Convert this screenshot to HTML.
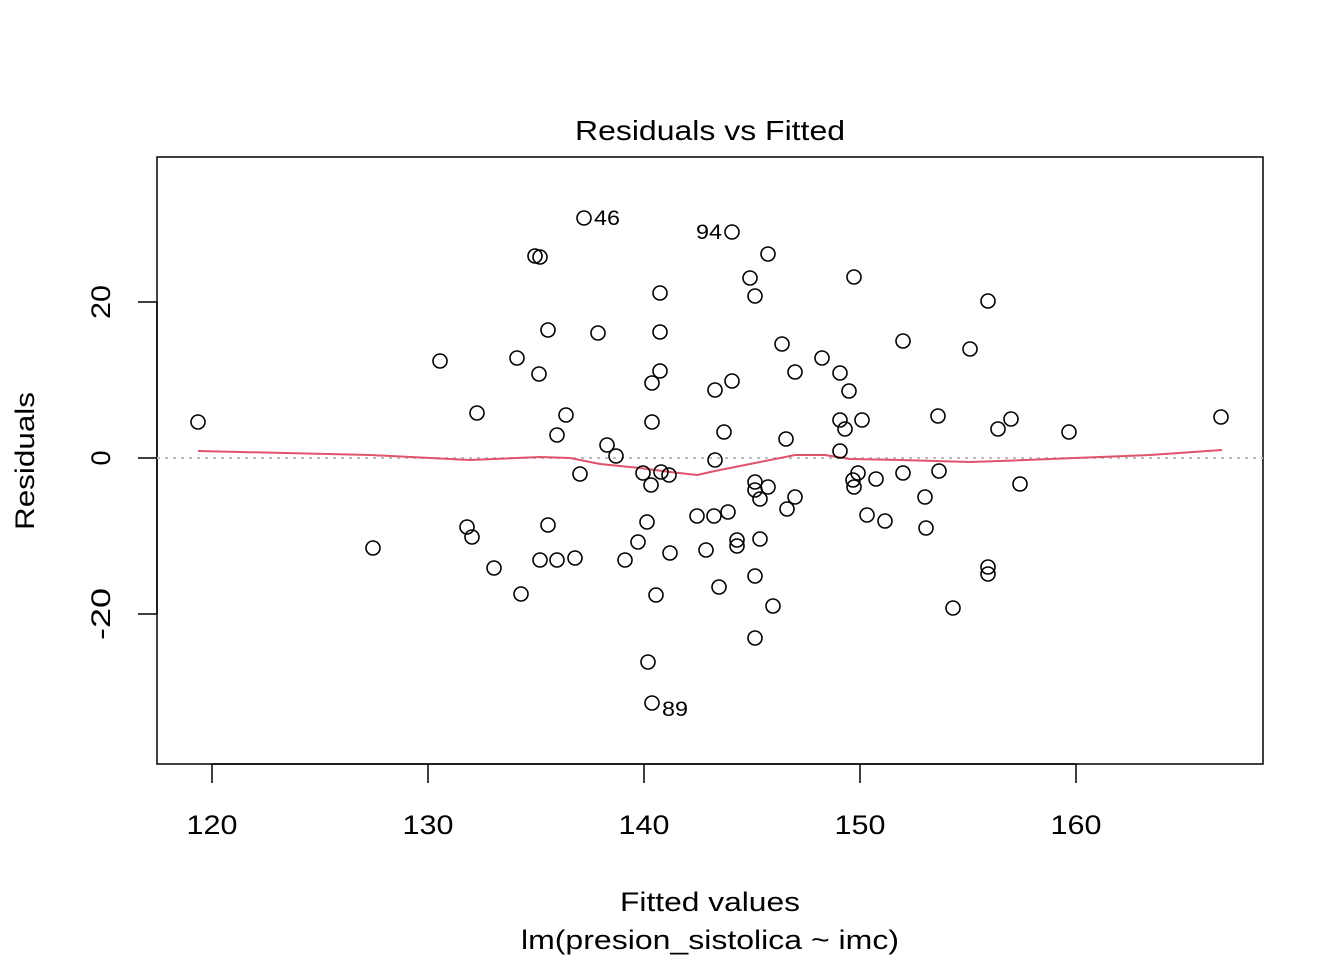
<!DOCTYPE html>
<html><head><meta charset="utf-8"><style>html,body{margin:0;padding:0;background:#fff}</style></head>
<body>
<svg width="1344" height="960" xmlns="http://www.w3.org/2000/svg" font-family="Liberation Sans, Arial, sans-serif">
<rect width="1344" height="960" fill="#fff"/>
<text x="710" y="140" font-size="28" text-anchor="middle" textLength="270" lengthAdjust="spacingAndGlyphs">Residuals vs Fitted</text>
<rect x="157" y="157" width="1106" height="607" fill="none" stroke="#000" stroke-width="1.5"/>
<g stroke="#000" stroke-width="1.5">
<line x1="212" y1="764" x2="1076" y2="764"/>
<line x1="212" y1="764" x2="212" y2="783"/><line x1="428" y1="764" x2="428" y2="783"/><line x1="644" y1="764" x2="644" y2="783"/><line x1="860" y1="764" x2="860" y2="783"/><line x1="1076" y1="764" x2="1076" y2="783"/>
<line x1="157" y1="302" x2="157" y2="614"/>
<line x1="157" y1="302" x2="138" y2="302"/><line x1="157" y1="458" x2="138" y2="458"/><line x1="157" y1="614" x2="138" y2="614"/>
</g>
<g font-size="27" text-anchor="middle" lengthAdjust="spacingAndGlyphs">
<text x="212" y="834" textLength="51" lengthAdjust="spacingAndGlyphs">120</text><text x="428" y="834" textLength="51" lengthAdjust="spacingAndGlyphs">130</text><text x="644" y="834" textLength="51" lengthAdjust="spacingAndGlyphs">140</text><text x="860" y="834" textLength="51" lengthAdjust="spacingAndGlyphs">150</text><text x="1076" y="834" textLength="51" lengthAdjust="spacingAndGlyphs">160</text>
<text transform="translate(110,302) rotate(-90)" textLength="34" lengthAdjust="spacingAndGlyphs">20</text>
<text transform="translate(110,458) rotate(-90)">0</text>
<text transform="translate(110,614) rotate(-90)" textLength="52" lengthAdjust="spacingAndGlyphs">-20</text>
<text x="710" y="911" textLength="180" lengthAdjust="spacingAndGlyphs">Fitted values</text>
<text x="710" y="949" textLength="378" lengthAdjust="spacingAndGlyphs">lm(presion_sistolica ~ imc)</text>
<text transform="translate(34,461) rotate(-90)" textLength="138" lengthAdjust="spacingAndGlyphs">Residuals</text>
</g>
<line x1="157" y1="458" x2="1263" y2="458" stroke="#bebebe" stroke-width="2" stroke-dasharray="3,5"/>
<polyline fill="none" stroke="#DF536B" stroke-width="2" points="198,451 370,455 470,460 540,457 570,458 600,464 640,468 670,472 697,475 715,471 760,462 795,455 825,455 850,459 900,460 970,462 1000,461 1075,458 1150,455 1222,450"/>
<g fill="none" stroke="#000" stroke-width="1.6">
<circle cx="198" cy="422" r="7"/><circle cx="373" cy="548" r="7"/><circle cx="440" cy="361" r="7"/><circle cx="467" cy="527" r="7"/><circle cx="472" cy="537" r="7"/><circle cx="477" cy="413" r="7"/><circle cx="494" cy="568" r="7"/><circle cx="517" cy="358" r="7"/><circle cx="521" cy="594" r="7"/><circle cx="535" cy="256" r="7"/><circle cx="540" cy="257" r="7"/><circle cx="539" cy="374" r="7"/><circle cx="548" cy="330" r="7"/><circle cx="548" cy="525" r="7"/><circle cx="540" cy="560" r="7"/><circle cx="557" cy="560" r="7"/><circle cx="557" cy="435" r="7"/><circle cx="566" cy="415" r="7"/><circle cx="575" cy="558" r="7"/><circle cx="580" cy="474" r="7"/><circle cx="584" cy="218" r="7"/><circle cx="598" cy="333" r="7"/><circle cx="607" cy="445" r="7"/><circle cx="616" cy="456" r="7"/><circle cx="625" cy="560" r="7"/><circle cx="638" cy="542" r="7"/><circle cx="643" cy="473" r="7"/><circle cx="647" cy="522" r="7"/><circle cx="648" cy="662" r="7"/><circle cx="652" cy="383" r="7"/><circle cx="652" cy="422" r="7"/><circle cx="651" cy="485" r="7"/><circle cx="652" cy="703" r="7"/><circle cx="656" cy="595" r="7"/><circle cx="660" cy="293" r="7"/><circle cx="660" cy="332" r="7"/><circle cx="660" cy="371" r="7"/><circle cx="661" cy="472" r="7"/><circle cx="669" cy="475" r="7"/><circle cx="670" cy="553" r="7"/><circle cx="697" cy="516" r="7"/><circle cx="706" cy="550" r="7"/><circle cx="714" cy="516" r="7"/><circle cx="715" cy="390" r="7"/><circle cx="715" cy="460" r="7"/><circle cx="719" cy="587" r="7"/><circle cx="724" cy="432" r="7"/><circle cx="728" cy="512" r="7"/><circle cx="732" cy="232" r="7"/><circle cx="732" cy="381" r="7"/><circle cx="737" cy="540" r="7"/><circle cx="737" cy="546" r="7"/><circle cx="750" cy="278" r="7"/><circle cx="755" cy="296" r="7"/><circle cx="755" cy="482" r="7"/><circle cx="755" cy="490" r="7"/><circle cx="755" cy="576" r="7"/><circle cx="755" cy="638" r="7"/><circle cx="760" cy="499" r="7"/><circle cx="760" cy="539" r="7"/><circle cx="768" cy="254" r="7"/><circle cx="768" cy="487" r="7"/><circle cx="773" cy="606" r="7"/><circle cx="782" cy="344" r="7"/><circle cx="786" cy="439" r="7"/><circle cx="787" cy="509" r="7"/><circle cx="795" cy="372" r="7"/><circle cx="795" cy="497" r="7"/><circle cx="822" cy="358" r="7"/><circle cx="840" cy="373" r="7"/><circle cx="840" cy="420" r="7"/><circle cx="840" cy="451" r="7"/><circle cx="845" cy="429" r="7"/><circle cx="849" cy="391" r="7"/><circle cx="854" cy="277" r="7"/><circle cx="853" cy="480" r="7"/><circle cx="854" cy="487" r="7"/><circle cx="858" cy="473" r="7"/><circle cx="862" cy="420" r="7"/><circle cx="867" cy="515" r="7"/><circle cx="876" cy="479" r="7"/><circle cx="885" cy="521" r="7"/><circle cx="903" cy="341" r="7"/><circle cx="903" cy="473" r="7"/><circle cx="925" cy="497" r="7"/><circle cx="926" cy="528" r="7"/><circle cx="938" cy="416" r="7"/><circle cx="939" cy="471" r="7"/><circle cx="953" cy="608" r="7"/><circle cx="970" cy="349" r="7"/><circle cx="988" cy="301" r="7"/><circle cx="988" cy="567" r="7"/><circle cx="988" cy="574" r="7"/><circle cx="998" cy="429" r="7"/><circle cx="1011" cy="419" r="7"/><circle cx="1020" cy="484" r="7"/><circle cx="1069" cy="432" r="7"/><circle cx="1221" cy="417" r="7"/>
</g>
<g font-size="21">
<text x="594" y="225" textLength="26" lengthAdjust="spacingAndGlyphs">46</text>
<text x="722" y="239" text-anchor="end" textLength="26" lengthAdjust="spacingAndGlyphs">94</text>
<text x="662" y="716" textLength="26" lengthAdjust="spacingAndGlyphs">89</text>
</g>
</svg>
</body></html>
